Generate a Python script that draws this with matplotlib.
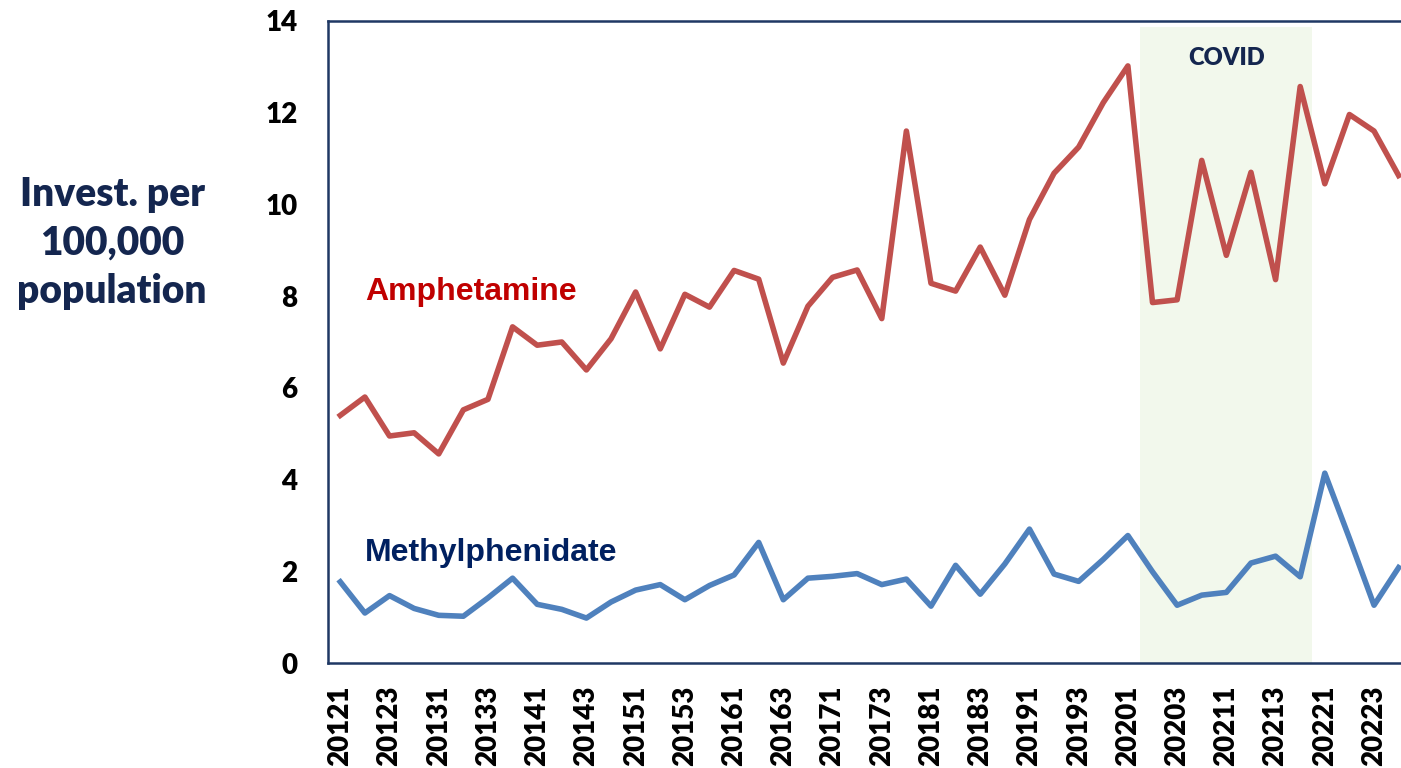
import matplotlib.pyplot as plt

# --- Data (quarterly) ---
quarters = [f"{y}{q}" for y in range(2012, 2023) for q in range(1, 5)]

amphetamine = [5.40, 5.80, 4.95, 5.02, 4.56, 5.52, 5.75, 7.33, 6.93, 7.00,
               6.39, 7.07, 8.09, 6.85, 8.04, 7.76, 8.56, 8.37, 6.54, 7.78,
               8.41, 8.57, 7.51, 11.60, 8.28, 8.11, 9.07, 8.02, 9.67, 10.68,
               11.25, 12.22, 13.02, 7.86, 7.92, 10.96, 8.89, 10.70, 8.36, 12.57,
               10.45, 11.96, 11.60, 10.63]

methylphenidate = [1.77, 1.09, 1.47, 1.19, 1.04, 1.02, 1.42, 1.85, 1.28, 1.17,
                   0.98, 1.33, 1.59, 1.71, 1.38, 1.69, 1.92, 2.63, 1.38, 1.85,
                   1.89, 1.95, 1.71, 1.83, 1.24, 2.13, 1.50, 2.16, 2.92, 1.94,
                   1.78, 2.26, 2.78, 1.99, 1.26, 1.48, 1.54, 2.18, 2.33, 1.88,
                   4.14, 2.72, 1.26, 2.08]

covid_start, covid_end = "20201", "20214"
y_ticks = [0, 2, 4, 6, 8, 10, 12, 14]

NAVY = '#14264f'
SPINE = '#1f3864'

fig = plt.figure(figsize=(14.01, 7.68), dpi=100)
ax = fig.add_axes([0.2341, 0.1367, 0.773, 0.836])

x = list(range(len(quarters)))
i0 = quarters.index(covid_start)
i1 = quarters.index(covid_end)
ax.axvspan(i0 + 0.5, i1 + 0.5, ymin=0, ymax=0.99, color='#f2f8ec', lw=0, zorder=0)

ax.plot(x, amphetamine, color='#c0504d', lw=4.0, solid_joinstyle='round', zorder=3)
ax.plot(x, methylphenidate, color='#4f81bd', lw=4.0, solid_joinstyle='round', zorder=3)

ax.set_xlim(-0.5, len(quarters) - 0.5)
ax.set_ylim(0, 14)
ax.set_yticks(y_ticks)
ax.set_xticks(x[::2])
ax.set_xticklabels(quarters[::2], rotation=90, fontsize=20, fontweight='heavy', family='Lato')
ax.set_yticklabels([str(v) for v in y_ticks], fontsize=20, fontweight='heavy', family='Lato')
ax.tick_params(axis='both', length=0)
ax.tick_params(axis='y', pad=22)
ax.tick_params(axis='x', pad=16)

for s in ax.spines.values():
    s.set_color(SPINE)
    s.set_linewidth(1.8)

# series labels
ax.text(1.0, 8.1, 'Amphetamine', color='#c00000', fontsize=23, fontweight='bold',
        family='Liberation Sans', va='center', ha='left')
ax.text(1.0, 2.4, 'Methylphenidate', color='#002060', fontsize=23, fontweight='bold',
        family='Liberation Sans', va='center', ha='left')
ax.text((i0 + i1) / 2 + 0.5, 13.2, 'COVID', color=NAVY, fontsize=17, fontweight='heavy',
        family='Lato', ha='center', va='center')

fig.text(112 / 1401, 1 - 243 / 768, 'Invest. per\n100,000\npopulation', color=NAVY,
         fontsize=28, fontweight='heavy', family='Lato', ha='center', va='center',
         linespacing=1.38)

fig.savefig('out.png', dpi=100)
